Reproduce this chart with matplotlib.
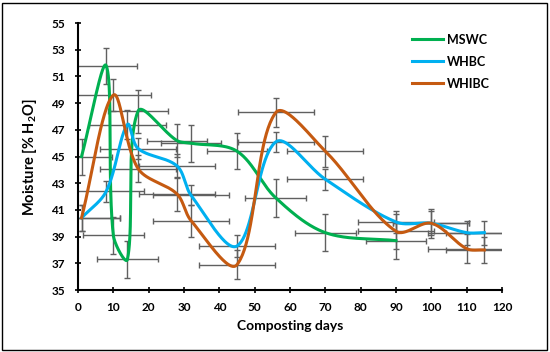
import numpy as np
import matplotlib
matplotlib.use('Agg')
import matplotlib.pyplot as plt
from matplotlib.patches import Rectangle

plt.rcParams['font.family'] = ['Lato', 'DejaVu Sans']
plt.rcParams['mathtext.fontset'] = 'custom'
plt.rcParams['mathtext.bf'] = 'Lato:bold'
plt.rcParams['mathtext.rm'] = 'Lato:bold'
plt.rcParams['mathtext.default'] = 'bf'

# MSWC (green)
mswc_days = [1, 8, 10, 14, 17, 28, 32, 45, 56, 70, 90]
mswc_moist = [45.0, 51.8, 39.1, 37.3, 48.4, 46.2, 46.0, 45.4, 41.9, 39.3, 38.7]
mswc_yerr = [1.35, 1.35, 1.4, 1.4, 1.6, 1.25, 1.4, 1.35, 1.4, 1.4, 1.4]
mswc_xerr = 8.6

# WHBC (blue)
whbc_days = [1, 8, 14, 17, 28, 32, 45, 56, 70, 90, 100, 110, 115]
whbc_moist = [40.4, 42.4, 47.4, 45.6, 44.3, 42.1, 38.3, 46.1, 43.3, 40.1, 40.0, 39.3, 39.3]
whbc_yerr = [1.0, 0.8, 1.1, 0.8, 0.9, 0.75, 0.8, 0.75, 0.8, 0.8, 0.9, 0.9, 0.9]
whbc_xerr = 10.8

# WHIBC (orange)
whibc_days = [1, 10, 17, 28, 32, 45, 56, 70, 90, 100, 110, 115]
whibc_moist = [40.4, 49.6, 44.1, 42.2, 40.2, 36.9, 48.3, 45.4, 39.4, 40.0, 38.1, 38.0]
whibc_yerr = [1.0, 1.2, 1.0, 1.3, 1.2, 1.1, 1.1, 1.15, 1.3, 1.1, 1.1, 1.0]
whibc_xerr = 10.8

series = [
    ('MSWC', mswc_days, mswc_moist, mswc_yerr, mswc_xerr, '#00B050'),
    ('WHBC', whbc_days, whbc_moist, whbc_yerr, whbc_xerr, '#00B0F0'),
    ('WHIBC', whibc_days, whibc_moist, whibc_yerr, whibc_xerr, '#C55A11'),
]

# pixel scale of the axes, used so the smoothing looks like Excel's
SX, SY = 3.533, 13.35


def smooth(xs, ys, n=50):
    # bezier through the points with length-weighted tangents (like Excel's smoothed line)
    p = np.column_stack([np.asarray(xs, float) * SX, np.asarray(ys, float) * SY])
    k = len(p)
    out = []
    for i in range(k - 1):
        p0 = p[i - 1] if i > 0 else p[i]
        p3 = p[i + 2] if i + 2 < k else p[i + 1]
        d01 = np.hypot(*(p[i] - p0))
        d12 = np.hypot(*(p[i + 1] - p[i]))
        d23 = np.hypot(*(p3 - p[i + 1]))
        c1 = p[i] + (p[i + 1] - p0) * d12 / (d01 + d12) / 3
        c2 = p[i + 1] - (p3 - p[i]) * d12 / (d12 + d23) / 3
        t = np.linspace(0, 1, n)[:, None]
        seg = ((1 - t) ** 3) * p[i] + 3 * ((1 - t) ** 2) * t * c1 + 3 * (1 - t) * t ** 2 * c2 + t ** 3 * p[i + 1]
        out.append(seg if i == 0 else seg[1:])
    out = np.vstack(out)
    return out[:, 0] / SX, out[:, 1] / SY


fig = plt.figure(figsize=(5.5, 3.52), dpi=100)
ax = fig.add_axes([0.1418, 0.176, 0.7709, 0.7585])

for name, d, m, ye, xe, col in series:
    ax.errorbar(d, m, yerr=ye, xerr=xe, fmt='none', ecolor='#606060',
                elinewidth=1.0, capsize=2.5, capthick=1.0, zorder=2)
for name, d, m, ye, xe, col in series:
    sx, sy = smooth(d, m)
    ax.plot(sx, sy, color=col, lw=2.2, label=name, zorder=3)

ax.set_xlim(0, 120)
ax.set_ylim(35, 55)
ax.set_xticks(np.arange(0, 121, 10))
ax.set_yticks(np.arange(35, 56, 2))
for s in ['top', 'right']:
    ax.spines[s].set_visible(False)
for s in ['left', 'bottom']:
    ax.spines[s].set_linewidth(1.5)
ax.tick_params(direction='inout', length=5, width=1.2, labelsize=8.5)
ax.tick_params(axis='x', pad=6)
ax.tick_params(axis='y', pad=7)
for lbl in ax.get_xticklabels() + ax.get_yticklabels():
    lbl.set_fontweight('bold')

ax.set_xlabel('Composting days', fontsize=10, fontweight='bold', labelpad=5)
ax.set_ylabel(r'Moisture [% H$_2$O]', fontsize=10.5, fontweight='bold', labelpad=9)

leg = ax.legend(loc='upper left', bbox_to_anchor=(0.787, 0.96), frameon=False,
                fontsize=9, handlelength=2.5, handletextpad=0.3,
                labelspacing=0.8, borderpad=0, borderaxespad=0)
for t in leg.get_texts():
    t.set_fontweight('bold')

fig.patches.append(Rectangle((0.004, 0.006), 0.99, 0.986, transform=fig.transFigure,
                             fill=False, edgecolor='black', lw=1.0))

fig.savefig('out.png', dpi=100)
